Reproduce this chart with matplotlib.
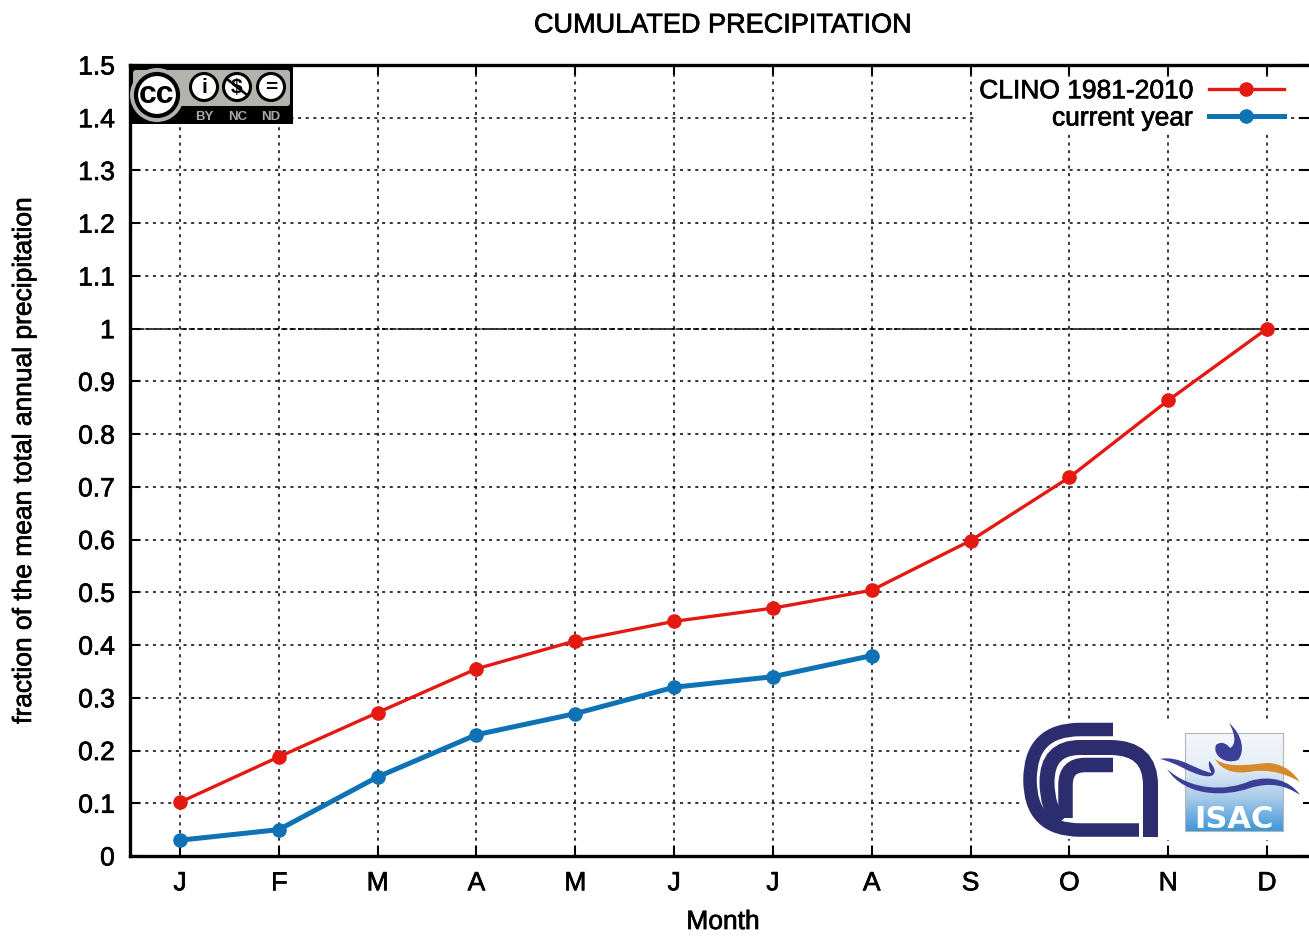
import numpy as np
import matplotlib
matplotlib.use('Agg')
import matplotlib.pyplot as plt
import matplotlib.patheffects as pe
from matplotlib.lines import Line2D
from matplotlib.patches import Circle, PathPatch, FancyBboxPatch, Rectangle
from matplotlib.path import Path
from matplotlib.transforms import Affine2D

months = ['J', 'F', 'M', 'A', 'M', 'J', 'J', 'A', 'S', 'O', 'N', 'D']
clino = [0.102, 0.188, 0.272, 0.355, 0.408, 0.445, 0.47, 0.504, 0.598, 0.718, 0.864, 1.0]
current = [0.03, 0.05, 0.15, 0.23, 0.27, 0.32, 0.34, 0.38]
y_ticks = [0, 0.1, 0.2, 0.3, 0.4, 0.5, 0.6, 0.7, 0.8, 0.9, 1, 1.1, 1.2, 1.3, 1.4, 1.5]
y_labels = ['0', '0.1', '0.2', '0.3', '0.4', '0.5', '0.6', '0.7', '0.8', '0.9', '1',
            '1.1', '1.2', '1.3', '1.4', '1.5']

W, H = 1309, 936
RED = '#e41a12'
BLUE = '#0f72b5'
NAVY = '#2b2d6e'
FS = 19
# the reference text is a little heavy from resampling
HEAVY = [pe.withStroke(linewidth=0.5, foreground='black')]

plt.rcParams['font.family'] = ['Liberation Sans', 'DejaVu Sans']

fig = plt.figure(figsize=(W / 100, H / 100), dpi=100)
ax = fig.add_axes([130 / W, 1 - 856 / H, (W - 130) / W, (856 - 65) / H])

x = np.arange(1, 13)
ax.plot(x, clino, '-o', color=RED, lw=2.4, ms=9.5, label='CLINO 1981-2010', zorder=5, clip_on=False)
ax.plot(x[:len(current)], current, '-o', color=BLUE, lw=3.6, ms=9.5, label='current year', zorder=5)

ax.set_xlim(1 - 50 / 98.8, 12 + 42 / 98.8)
ax.set_ylim(0, 1.5)
ax.set_xticks(x)
ax.set_xticklabels(months)
ax.set_yticks(y_ticks)
ax.set_yticklabels(y_labels)
ax.tick_params(axis='both', direction='in', length=7, width=1.5, top=True, right=True,
               labelsize=FS, color='black')
ax.tick_params(axis='x', pad=11)
ax.tick_params(axis='y', pad=11)
for lab in ax.get_xticklabels() + ax.get_yticklabels():
    lab.set_path_effects(HEAVY)
ax.grid(True, color='black', lw=1.1, ls=(0, (2, 3)))
ax.axhline(1, color='black', lw=1.1, ls=(0, (4, 1.5)), zorder=1)
ax.set_axisbelow(True)
for name in ['left', 'top', 'bottom']:
    ax.spines[name].set_linewidth(2.4)
ax.spines['right'].set_visible(False)

leg = ax.legend(loc='upper right', markerfirst=False, fontsize=FS, frameon=True, framealpha=1,
                edgecolor='none', facecolor='white', fancybox=False, handlelength=2.84,
                labelspacing=0.12, handletextpad=0.6, borderaxespad=0, borderpad=0.1,
                bbox_to_anchor=(1 - 22.6 / (W - 130), 1 - 11.6 / (856 - 65)))
leg.set_zorder(6)
for line in leg.get_lines():
    line.set_markersize(9.5)
for t in leg.get_texts():
    t.set_path_effects(HEAVY)

# everything below is placed in picture pixels, origin top left
px = Affine2D().scale(1 / W, -1 / H).translate(0, 1) + fig.transFigure


def add(patch, z=8):
    patch.set_transform(px)
    patch.set_clip_on(False)
    patch.set_zorder(z)
    fig.add_artist(patch)
    return patch


def ptext(xp, yp, s, **kw):
    return fig.text(xp, yp, s, transform=px, **kw)


def stroke(verts, codes, width_px, color=NAVY, z=9):
    add(PathPatch(Path(verts, codes), fc='none', ec=color, lw=width_px * 0.72, capstyle='butt'), z)


def blob(verts, color, z=11):
    # closed smooth shape, points given as cubic bezier runs
    codes = [Path.MOVETO] + [Path.CURVE4] * (len(verts) - 1)
    add(PathPatch(Path(verts, codes), fc=color, ec='none'), z)


ptext(723, 25.5, 'CUMULATED PRECIPITATION', fontsize=19.5, ha='center', va='center', path_effects=HEAVY)
ptext(723, 922, 'Month', fontsize=FS, ha='center', va='center', path_effects=HEAVY)
ptext(24, 460, 'fraction of the mean total annual precipitation', fontsize=FS,
      rotation=90, ha='center', va='center', path_effects=HEAVY)

# cc badge
add(Rectangle((130, 66), 163, 58, fc='black', ec='none'))
add(FancyBboxPatch((133, 70), 157, 36, boxstyle='round,pad=0,rounding_size=3', fc='#b0b4ac', ec='none'))
add(Circle((157, 95), 27, fc='#b0b4ac', ec='none'), 9)
add(Circle((157, 95), 21, fc='white', ec='black', lw=3), 10)
ptext(157, 95, 'cc', fontsize=23, fontweight='bold', ha='center', va='center', zorder=11)
for cx, sym in zip([204, 237, 271], ['i', '$', '=']):
    add(Circle((cx, 87), 13.5, fc='white', ec='black', lw=2.2), 10)
    ptext(cx, 87.5, sym, fontsize=15, fontweight='bold', ha='center', va='center', zorder=11)
fig.add_artist(Line2D([227, 247], [79, 95], transform=px, color='black', lw=1.8, zorder=12))
for cx, lab in zip([204, 238, 271], ['BY', 'NC', 'ND']):
    ptext(cx, 116.5, lab, fontsize=9.5, fontweight='bold', color='#a8a8a8', ha='center', va='center', zorder=11)

# white ground under the logos
add(Rectangle((1021, 720), 140, 119, fc='white', ec='none'), 7)
add(Rectangle((1161, 722), 142, 118, fc='white', ec='none'), 7)

# CNR mark
M, L, C = Path.MOVETO, Path.LINETO, Path.CURVE3
stroke([(1150.5, 837), (1150.5, 785), (1150.5, 747.5), (1110, 747.5), (1080, 747.5),
        (1047, 747.5), (1047, 782), (1047, 808), (1060, 822)],
       [M, L, C, C, L, C, C, C, C], 15)
stroke([(1113, 729.5), (1080, 729.5), (1030, 729.5), (1030, 780), (1030, 830), (1080, 830), (1139, 830)],
       [M, L, C, C, C, C, L], 13.5)
stroke([(1113, 765), (1085, 765), (1065.5, 765), (1065.5, 785), (1065.5, 818)],
       [M, L, C, C, L], 14.5)

# ISAC square
grad = np.linspace(0, 1, 100).reshape(-1, 1)
sq = fig.add_axes([1185 / W, 1 - 831 / H, 98 / W, 98 / H], zorder=10)
cmap = matplotlib.colors.LinearSegmentedColormap.from_list(
    'isac', ['#f4f7fb', '#e6eef8', '#a9cbe9', '#3f96d8'])
sq.imshow(grad, cmap=cmap, aspect='auto')
sq.set_xticks([])
sq.set_yticks([])
for s in sq.spines.values():
    s.set_color('#b5b5b5')
ptext(1234, 820, 'ISAC', fontsize=22, fontweight='bold', color='white', ha='center', va='center',
      zorder=12, family='DejaVu Sans')

# swooshes
blob([(1160, 759), (1180, 755), (1195, 770), (1212, 773), (1212, 773), (1208, 770), (1209, 761),
      (1218, 770), (1216, 778), (1205, 776), (1190, 774), (1178, 763), (1160, 759)], '#3b3f97', 13)
blob([(1167, 769), (1190, 790), (1225, 792), (1250, 781), (1270, 775), (1290, 780), (1300, 795),
      (1285, 785), (1270, 782), (1250, 788), (1225, 797), (1185, 797), (1167, 769)], '#3b3f97', 13)
blob([(1215, 759), (1230, 770), (1255, 763), (1270, 763), (1285, 765), (1293, 772), (1300, 782),
      (1285, 773), (1270, 770), (1255, 771), (1235, 775), (1222, 771), (1215, 759)], '#d68a2c', 13)
blob([(1229, 723), (1243, 735), (1245, 752), (1238, 760), (1225, 765), (1212, 755), (1216, 745),
      (1222, 740), (1228, 745), (1230, 748), (1236, 745), (1236, 735), (1229, 723)], '#3b3f97', 13)

fig.savefig('out.png', dpi=100)
